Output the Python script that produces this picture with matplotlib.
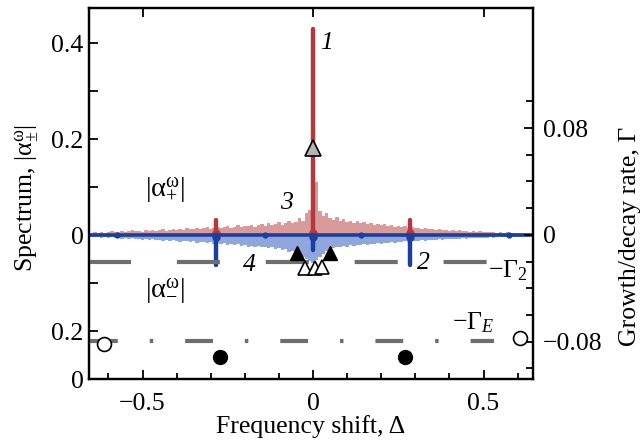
import numpy as np
import matplotlib
matplotlib.use("Agg")
import matplotlib.pyplot as plt

plt.rcParams['font.family'] = ['Liberation Serif', 'DejaVu Serif']
plt.rcParams['mathtext.fontset'] = 'custom'
plt.rcParams['mathtext.rm'] = 'Liberation Serif'
plt.rcParams['mathtext.it'] = 'Liberation Serif:italic'
plt.rcParams['lines.scale_dashes'] = False

# frequency grid of the spectra
delta = np.linspace(-0.65, 0.65, 131)

# curve 3: |alpha+| noisy spectrum (upwards)
spec_plus = [
    0.004, 0.006, 0.005, 0.007, 0.005, 0.006, 0.008, 0.006, 0.007, 0.009,
    0.007, 0.008, 0.010, 0.008, 0.009, 0.007, 0.010, 0.009, 0.011, 0.008,
    0.010, 0.012, 0.009, 0.011, 0.013, 0.010, 0.012, 0.011, 0.014, 0.012,
    0.013, 0.015, 0.012, 0.014, 0.016, 0.013, 0.015, 0.017, 0.014, 0.016,
    0.018, 0.015, 0.017, 0.020, 0.016, 0.019, 0.018, 0.021, 0.017, 0.020,
    0.022, 0.019, 0.024, 0.020, 0.023, 0.027, 0.021, 0.025, 0.030, 0.024,
    0.028, 0.035, 0.030, 0.045, 0.052,
    0.060,
    0.110, 0.050, 0.040, 0.045, 0.035, 0.032, 0.038, 0.030, 0.033, 0.028,
    0.030, 0.026, 0.029, 0.024, 0.027, 0.022, 0.025, 0.021, 0.023, 0.020,
    0.022, 0.018, 0.020, 0.017, 0.019, 0.016, 0.018, 0.015, 0.017, 0.014,
    0.015, 0.013, 0.014, 0.012, 0.013, 0.011, 0.012, 0.010, 0.011, 0.009,
    0.010, 0.009, 0.010, 0.008, 0.009, 0.007, 0.008, 0.007, 0.008, 0.006,
    0.007, 0.006, 0.007, 0.005, 0.006, 0.005, 0.006, 0.004, 0.005, 0.004,
    0.005, 0.004, 0.004, 0.003, 0.004,
]

# curve 4: |alpha-| noisy spectrum (drawn downwards)
spec_minus = [
    0.004, 0.005, 0.004, 0.006, 0.005, 0.006, 0.005, 0.007, 0.006, 0.008,
    0.007, 0.008, 0.007, 0.009, 0.008, 0.010, 0.008, 0.010, 0.009, 0.011,
    0.010, 0.012, 0.010, 0.013, 0.011, 0.012, 0.014, 0.012, 0.013, 0.015,
    0.013, 0.016, 0.014, 0.015, 0.017, 0.015, 0.018, 0.016, 0.019, 0.017,
    0.020, 0.018, 0.021, 0.019, 0.023, 0.020, 0.024, 0.022, 0.025, 0.023,
    0.026, 0.024, 0.028, 0.026, 0.030, 0.028, 0.032, 0.030, 0.035, 0.034,
    0.038, 0.042, 0.046, 0.050, 0.055,
    0.058,
    0.052, 0.046, 0.040, 0.034, 0.030, 0.028, 0.025, 0.026, 0.023, 0.024,
    0.021, 0.022, 0.020, 0.021, 0.019, 0.020, 0.018, 0.019, 0.017, 0.018,
    0.016, 0.017, 0.015, 0.016, 0.014, 0.015, 0.013, 0.014, 0.013, 0.012,
    0.013, 0.011, 0.012, 0.010, 0.011, 0.010, 0.009, 0.010, 0.009, 0.008,
    0.009, 0.008, 0.008, 0.007, 0.008, 0.007, 0.006, 0.007, 0.006, 0.006,
    0.006, 0.005, 0.006, 0.005, 0.005, 0.004, 0.005, 0.004, 0.004, 0.004,
    0.004, 0.003, 0.004, 0.003, 0.003,
]

# curves 1 and 2: discrete lines
peak_pos = [-0.285, 0.0, 0.285]
peak_plus = [0.032, 0.43, 0.032]
peak_minus = [0.063, 0.031, 0.063]
small_pos = [-0.575, -0.14, 0.14, 0.575]

# growth / decay rates
gamma2 = -0.020
gammaE = -0.0795
open_circ_x = [-0.613, 0.607]
open_circ_y = [-0.082, -0.077]
fill_circ_x = [-0.273, 0.270]
fill_circ_y = [-0.0915, -0.0915]
gray_tri_x = [0.0]
gray_tri_y = [0.065]
black_tri_x = [-0.047, 0.050]
black_tri_y = [-0.0135, -0.0135]
open_tri_x = [-0.023, 0.006, 0.026]
open_tri_y = [-0.0245, -0.0250, -0.0240]

dark_red = '#b23a3d'
pink = '#d99a9a'
dark_blue = '#1b3f9e'
light_blue = '#90a7dd'
gray = '#6e6e6e'

fig = plt.figure(figsize=(6.44, 4.43), dpi=100)
ax = fig.add_axes([89/644, 64/443, 444/644, 371/443])
ax2 = ax.twinx()

# spectra
ax.fill_between(delta, 0, spec_plus, step='mid', color=pink, lw=0, zorder=1)
ax.fill_between(delta, 0, -np.array(spec_minus), step='mid', color=light_blue, lw=0, zorder=1)
ax.vlines(peak_pos, 0, peak_plus, color=dark_red, lw=3.2, capstyle='round', zorder=3)
ax.plot(peak_pos, [0.004] * 3, 'o', color=dark_red, ms=5, zorder=3)
ax.vlines(peak_pos, 0, -np.array(peak_minus), color=dark_blue, lw=3.2, capstyle='round', zorder=4)
ax.axhline(0, color=dark_blue, lw=2.6, zorder=4)
ax.plot(peak_pos, [-0.004] * 3, 'o', color=dark_blue, ms=5, zorder=4)
ax.plot(small_pos, [0] * 4, 'o', color=dark_blue, ms=3.5, zorder=4)

# rates
ax2.plot([-0.66, 0.52], [gamma2, gamma2], color=gray, lw=3, dashes=(31, 33), zorder=2)
ax2.plot([-0.655, 0.53], [gammaE, gammaE], color=gray, lw=3,
         dashes=(20, 23, 2.5, 23), zorder=2)
ax2.plot(open_circ_x, open_circ_y, 'o', mfc='white', mec='black', ms=10, mew=1.2,
         clip_on=False, zorder=5)
ax2.plot(fill_circ_x, fill_circ_y, 'o', color='black', ms=10, zorder=5)
ax2.plot(gray_tri_x, gray_tri_y, '^', mfc='#b4b4b4', mec='black', ms=11, mew=1.2, zorder=5)
ax2.plot(black_tri_x, black_tri_y, '^', color='black', ms=10, zorder=5)
ax2.plot(open_tri_x, open_tri_y, '^', mfc='white', mec='black', ms=10, mew=1.2, zorder=5)

ax.set_xlim(-0.657, 0.645)
ax.set_ylim(-0.30, 0.473)
ax2.set_ylim(-0.108, 0.170)

fs = 18.5
ax.set_xticks([-0.5, 0, 0.5])
ax.set_xticklabels(['\u22120.5', '0', '0.5'])
ax.set_xticks(np.arange(-6, 7) / 10, minor=True)
ax.set_yticks([0.4, 0.2, 0, -0.2, -0.3])
ax.set_yticklabels(['0.4', '0.2', '0', '0.2', '0'])
ax.set_yticks([0.3, 0.1, -0.1], minor=True)
ax.tick_params(which='both', direction='in', labelsize=fs, width=1.3, top=True, right=False)
ax.tick_params(axis='x', which='major', length=6.5, pad=10)
ax.tick_params(axis='x', which='minor', length=4.3, top=False)
ax.tick_params(axis='y', which='both', length=6.5, pad=4)

ax2.set_yticks([0.08, 0, -0.08])
ax2.set_yticklabels(['0.08', '0', '\u22120.08'])
ax2.set_yticks([-0.10, -0.06, -0.04, -0.02, 0.02, 0.04, 0.06, 0.10], minor=True)
ax2.tick_params(which='both', direction='in', labelsize=fs, width=1.3, pad=7)
ax2.tick_params(which='major', length=6.5)
ax2.tick_params(which='minor', length=5)

for a in (ax, ax2):
    for s in a.spines.values():
        s.set_linewidth(1.6)

ax.set_xlabel('Frequency shift, \u0394', fontsize=fs)
ax.xaxis.set_label_coords(0.5, -0.129)
ax.xaxis.label.set_va('center')
ax.set_ylabel(r'Spectrum, $|\mathrm{α}^{\mathrm{ω}}_{\pm}|$', fontsize=fs)
ax.yaxis.set_label_coords(-0.14, 0.488)
ax.yaxis.label.set_va('center')
ax2.set_ylabel('Growth/decay rate, \u0393', fontsize=fs)
ax2.yaxis.set_label_coords(1.218, 0.385)
ax2.yaxis.label.set_va('center')

# annotations
ax.text(0.022, 0.40, '1', fontsize=fs, style='italic', va='center', ha='left')
ax.text(-0.079, 0.067, '3', fontsize=fs, style='italic', va='center', ha='center')
ax.text(-0.188, -0.063, '4', fontsize=fs, style='italic', va='center', ha='center')
ax.text(0.323, -0.058, '2', fontsize=fs, style='italic', va='center', ha='center')
ax.text(-0.434, 0.092, r'$|\mathrm{α}^{\mathrm{ω}}_{+}|$', fontsize=fs + 2, va='center', ha='center')
ax.text(-0.434, -0.118, r'$|\mathrm{α}^{\mathrm{ω}}_{-}|$', fontsize=fs + 2, va='center', ha='center')
ax2.text(0.572, -0.027, r'$-\mathrm{Γ}_{\mathrm{2}}$', fontsize=fs, va='center', ha='center')
ax2.text(0.47, -0.066, r'$-\mathrm{Γ}_{E}$', fontsize=fs, va='center', ha='center')

fig.savefig('out.png', dpi=100)
